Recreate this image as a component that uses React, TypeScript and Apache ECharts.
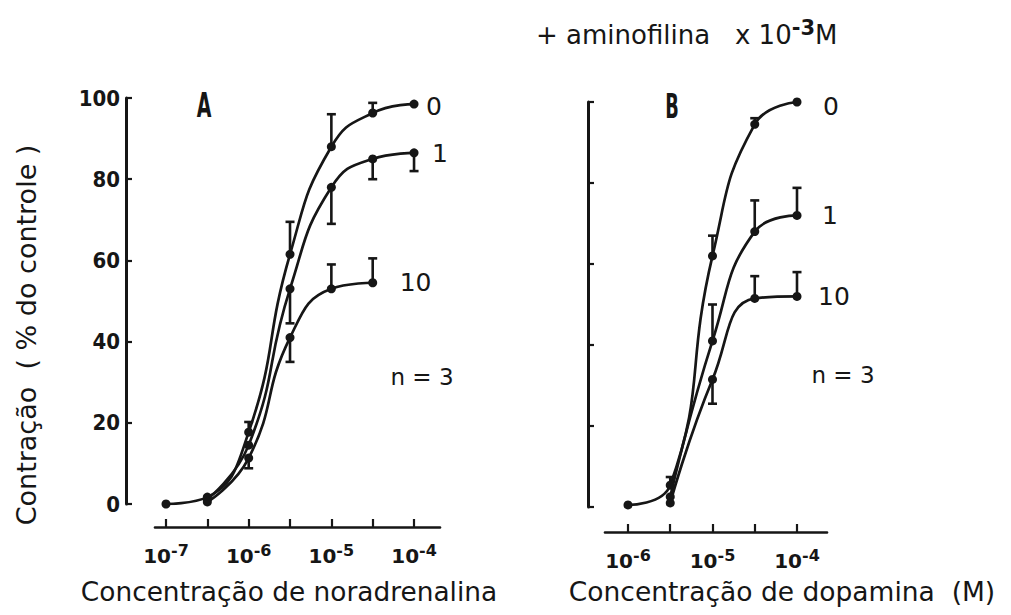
import React, { useEffect, useRef } from "react";
import * as echarts from "echarts";

// Panel A: noradrenalina (log10 M)
const xA = [-7, -6.5, -6, -5.5, -5, -4.5, -4];
const a0 = [0, 1.7, 17.7, 61.5, 88, 96.3, 98.5];
const a1 = [null, 1.2, 14.5, 53, 78, 85, 86.5];
const a10 = [null, 0.5, 11.3, 41, 53, 54.5, null];
const a0Err = [null, null, 2.5, 8, 8, 2.5, null];
const a1Err = [null, null, null, -8.5, -9, -5, -4.5];
const a10Err = [null, null, -2.5, -6, 6, 6, null];

// Panel B: dopamina (log10 M)
const xB = [-6, -5.5, -5, -4.5, -4];
const b0 = [0.5, 5.4, 62, 94.5, 100];
const b1 = [null, 2.5, 41, 68, 72];
const b10 = [null, 1, 31.5, 51.5, 52];
const b0Err = [null, 2, 5, 1.5, null];
const b1Err = [null, null, 9, 7.7, 6.8];
const b10Err = [null, null, -6, 5.5, 6];

const xTicksA = [-7, -6.5, -6, -5.5, -5, -4.5, -4];
const xLabelsA = [-7, -6, -5, -4];
const xTicksB = [-6, -5.5, -5, -4.5, -4];
const xLabelsB = [-6, -5, -4];
const curveNames = ["0", "1", "10"];

const INK = "#161616";
const FONT = "DejaVu Sans, Liberation Sans, sans-serif";
const FONT_C = "DejaVu Sans Condensed, DejaVu Sans, sans-serif";

const pairs = (xs: number[], ys: (number | null)[]) =>
  xs.map((x, i) => [x, ys[i]]).filter((p) => p[1] != null);

const errPairs = (xs: number[], ys: (number | null)[], es: (number | null)[]) =>
  xs
    .map((x, i) => (es[i] != null && ys[i] != null ? [x, ys[i] as number, (ys[i] as number) + (es[i] as number)] : null))
    .filter((p) => p != null);

const renderErr = (params: any, api: any) => {
  const x = api.value(0);
  const p0 = api.coord([x, api.value(1)]);
  const p1 = api.coord([x, api.value(2)]);
  const w = 4.5;
  const st = { stroke: INK, lineWidth: 2.6 };
  return {
    type: "group",
    children: [
      { type: "line", shape: { x1: p0[0], y1: p0[1], x2: p1[0], y2: p1[1] }, style: st },
      { type: "line", shape: { x1: p1[0] - w, y1: p1[1], x2: p1[0] + w, y2: p1[1] }, style: st },
    ],
  };
};

const lineSeries = (data: any[], idx: number, name: string, distance: number, offsetY: number) => ({
  type: "line",
  name,
  xAxisIndex: idx,
  yAxisIndex: idx,
  data,
  smooth: 0.5,
  symbol: "circle",
  symbolSize: 9,
  itemStyle: { color: INK },
  lineStyle: { color: INK, width: 2.7 },
  endLabel: {
    show: true,
    formatter: name,
    distance,
    offset: [0, offsetY],
    color: INK,
    fontSize: 25,
    fontFamily: FONT,
  },
  z: 3,
});

const errSeries = (data: any[], idx: number) => ({
  type: "custom",
  xAxisIndex: idx,
  yAxisIndex: idx,
  data,
  renderItem: renderErr,
  encode: { x: 0, y: [1, 2] },
  z: 2,
});

const xLabelFormatter = (v: number) => `{b|10}{s|-${Math.abs(Math.round(v))}}`;
const xRich = {
  b: { fontSize: 20, fontWeight: "bold", color: INK, fontFamily: FONT },
  s: { fontSize: 16, fontWeight: "bold", color: INK, fontFamily: FONT, padding: [0, 0, 11, 0] },
};

export default function App() {
  const ref = useRef<HTMLDivElement>(null);
  useEffect(() => {
    if (!ref.current) return;
    const chart = echarts.init(ref.current, null, { renderer: "svg" });
    const yAxisBase = (showLabel: boolean, offset: number) => ({
      type: "value",
      min: 0,
      max: 100,
      interval: 20,
      offset,
      axisLine: { show: true, lineStyle: { color: INK, width: 3 } },
      axisTick: { show: true, inside: true, length: 6, lineStyle: { color: INK, width: 2.2 } },
      axisLabel: {
        show: showLabel,
        fontSize: 22,
        fontWeight: "bold",
        color: INK,
        fontFamily: FONT_C,
        margin: 6,
      },
      splitLine: { show: false },
    });
    const xAxisBase = (min: number, max: number, offset: number, ticks: number[], labels: number[]) => ({
      type: "value",
      min,
      max,
      offset,
      axisLine: { show: true, onZero: false, lineStyle: { color: INK, width: 2.6 } },
      axisTick: { show: true, inside: true, length: 8, customValues: ticks, lineStyle: { color: INK, width: 2.2 } },
      axisLabel: { show: true, customValues: labels, formatter: xLabelFormatter, rich: xRich, margin: 15 },
      splitLine: { show: false },
    });
    const txt = (x: number, y: number, text: string, fontSize: number, extra: any = {}) => ({
      type: "text",
      x,
      y,
      ...extra,
      style: {
        text,
        fontSize,
        fill: INK,
        fontFamily: FONT,
        textAlign: "center",
        textVerticalAlign: "middle",
        ...(extra.style || {}),
      },
    });
    chart.setOption({
      animation: false,
      backgroundColor: "#ffffff",
      grid: [
        { left: 155, top: 98, width: 285, height: 406 },
        { left: 605, top: 102, width: 222, height: 405 },
      ],
      xAxis: [
        { gridIndex: 0, ...xAxisBase(-7.133, -3.686, 23, xTicksA, xLabelsA) },
        { gridIndex: 1, ...xAxisBase(-6.272, -3.645, 25, xTicksB, xLabelsB) },
      ],
      yAxis: [
        { gridIndex: 0, ...yAxisBase(true, 29) },
        { gridIndex: 1, ...yAxisBase(false, 17) },
      ],
      series: [
        lineSeries(pairs(xA, a0), 0, curveNames[0], 12, 2),
        lineSeries(pairs(xA, a1), 0, curveNames[1], 18, 1),
        lineSeries(pairs(xA, a10), 0, curveNames[2], 27, 0),
        errSeries(errPairs(xA, a0, a0Err), 0),
        errSeries(errPairs(xA, a1, a1Err), 0),
        errSeries(errPairs(xA, a10, a10Err), 0),
        lineSeries(pairs(xB, b0), 1, curveNames[0], 26, 4),
        lineSeries(pairs(xB, b1), 1, curveNames[1], 25, 0),
        lineSeries(pairs(xB, b10), 1, curveNames[2], 21, 0),
        errSeries(errPairs(xB, b0, b0Err), 1),
        errSeries(errPairs(xB, b1, b1Err), 1),
        errSeries(errPairs(xB, b10, b10Err), 1),
      ],
      graphic: [
        {
          type: "text",
          x: 536,
          y: 35,
          style: {
            text: "{a|+ aminofilina   x 10}{s|-3}{a|M}",
            rich: {
              a: { fontSize: 26, fill: INK, fontFamily: FONT },
              s: { fontSize: 21, fontWeight: "bold", fill: INK, fontFamily: FONT, padding: [0, 0, 14, 0] },
            },
            textVerticalAlign: "middle",
          },
        },
        txt(26, 335, "Contração  ( % do controle )", 27, { rotation: Math.PI / 2 }),
        txt(289, 591, "Concentração de noradrenalina", 26.4),
        txt(782, 591, "Concentração de dopamina  (M)", 26.5),
        txt(204, 106, "A", 34, { scaleX: 0.62, style: { fontWeight: "bold", fontFamily: FONT_C } }),
        txt(672, 106, "B", 34, { scaleX: 0.58, style: { fontWeight: "bold", fontFamily: FONT_C } }),
        txt(422, 377, "n = 3", 23),
        txt(843, 375, "n = 3", 23),
      ],
    });
    return () => chart.dispose();
  }, []);
  return <div ref={ref} style={{ position: "fixed", left: 0, top: 0, width: 1011, height: 615, background: "#fff" }} />;
}
